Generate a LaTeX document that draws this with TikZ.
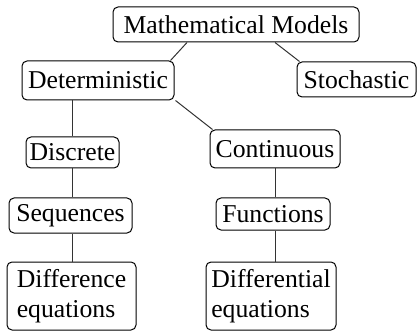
\documentclass[tikz,border=0pt]{standalone}
\usepackage{fontspec}
\setmainfont{Liberation Serif}
\begin{document}
\begin{tikzpicture}[x=0.5pt,y=-0.5pt,
  box/.style={draw=black, line width=0.5pt, rounded corners=2.5pt, inner sep=0pt,
    align=center, font=\fontsize{12.85}{15}\selectfont},
  link/.style={draw=black!80, line width=0.5pt}]
\useasboundingbox (0,0) rectangle (417,331);
\node[box, minimum width=123pt, minimum height=17.5pt] (mm) at (236,24.5) {Mathematical Models};
\node[box, minimum width=76pt, minimum height=19.5pt] (det) at (98,80.5) {Deterministic};
\node[box, minimum width=59.5pt, minimum height=17.5pt] (sto) at (356.5,79.5) {Stochastic};
\node[box, minimum width=46.5pt, minimum height=15.5pt] (dis) at (72.5,152.5) {Discrete};
\node[box, minimum width=65pt, minimum height=19pt] (con) at (275,149) {Continuous};
\node[box, minimum width=61.5pt, minimum height=17.5pt] (seq) at (70.5,215.5) {Sequences};
\node[box, minimum width=57pt, minimum height=16pt] (fun) at (273,214) {Functions};
\node[box, minimum width=64.5pt, minimum height=34pt, align=left] (dif) at (71.5,296) {Difference\\equations};
\node[box, minimum width=65pt, minimum height=34pt, align=left] (dfl) at (271,296) {Differential\\equations};
\draw[link] ([xshift=-24.5pt]mm.south) -- ([xshift=-2pt]det.north east);
\draw[link] ([xshift=19.5pt]mm.south) -- ([xshift=1.5pt]sto.north west);
\draw[link] ([xshift=0.5pt]det.south east) -- ([xshift=1.5pt]con.north west);
\draw[link] (det.south -| dis.north) -- (dis.north);
\draw[link] (dis.south) -- (dis.south |- seq.north);
\draw[link] (seq.south -| dis.south) -- (dis.south |- dif.north);
\draw[link] (con.south) -- (con.south |- fun.north);
\draw[link] (con.south |- fun.south) -- (con.south |- dfl.north);
\end{tikzpicture}
\end{document}
